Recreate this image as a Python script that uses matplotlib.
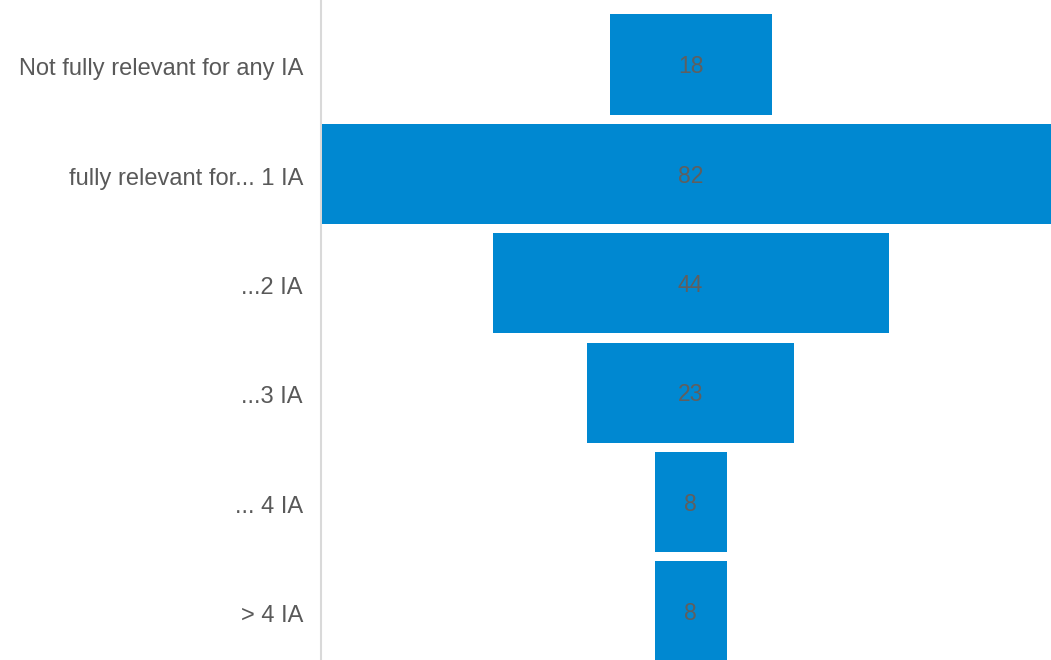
import matplotlib
matplotlib.use("Agg")
import matplotlib.pyplot as plt

categories = ["Not fully relevant for any IA", "fully relevant for... 1 IA", "...2 IA",
              "...3 IA", "... 4 IA", "> 4 IA"]
values = [18, 82, 44, 23, 8, 8]

plt.rcParams['font.family'] = ['Liberation Sans', 'DejaVu Sans']

fig = plt.figure(figsize=(10.51, 6.60), dpi=100)
L = 321 / 1051
ax = fig.add_axes([L, 0, 1 - L, 1])

ys = list(range(len(categories)))
lefts = [-v / 2 for v in values]
ax.barh(ys, values, left=lefts, height=0.915, color="#0088D1", edgecolor="none", zorder=2)

for y, v in zip(ys, values):
    ax.text(0, y + 0.02, str(v), ha="center", va="center", fontsize=16.5, color="#5f5f5f", zorder=3)

ax.set_xlim((321 - 690.5) / 9.0, (1051 - 690.5) / 9.0)
ax.set_ylim((660 - 64.5) / 109.4, -64.5 / 109.4)
ax.set_yticks([y + 0.02 for y in ys])
ax.set_yticklabels(categories, fontsize=17, color="#595959")
ax.tick_params(axis="y", length=0, pad=13)
ax.set_xticks([])
for s in ["top", "right", "bottom"]:
    ax.spines[s].set_visible(False)
ax.spines["left"].set_color("#d9d9d9")
ax.spines["left"].set_linewidth(1.5)
ax.spines["left"].set_zorder(1)

fig.savefig("out.png", dpi=100)
